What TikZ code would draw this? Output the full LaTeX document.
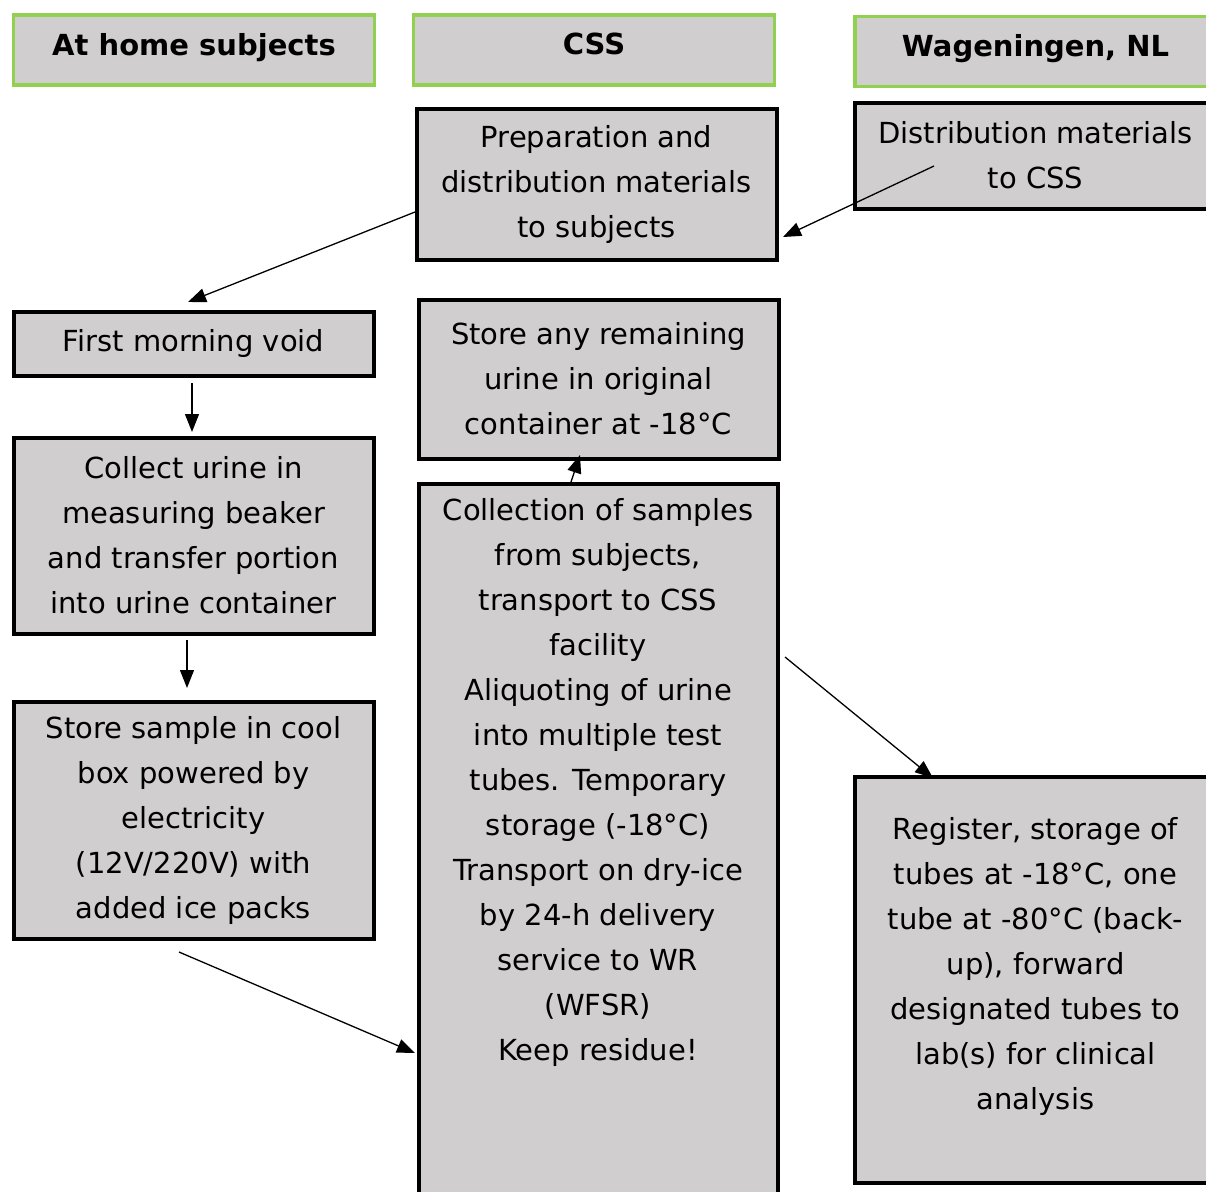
\documentclass[tikz,border=0pt]{standalone}
\usepackage{fontspec}
\setmainfont{DejaVu Sans}
\usetikzlibrary{arrows.meta}
\definecolor{boxgray}{RGB}{208,206,206}
\definecolor{headgreen}{RGB}{146,208,80}
\begin{document}
\begin{tikzpicture}[x=1pt,y=-1pt,
  every node/.style={inner sep=0pt, outer sep=0pt, font=\fontsize{29}{45}\selectfont},
  header/.style={draw=headgreen, line width=3.5pt, fill=boxgray, minimum width=361pt,
    minimum height=70pt, text depth=12pt, font=\bfseries\fontsize{29}{45}\selectfont},
  stepbox/.style={draw=black, line width=4pt, fill=boxgray, align=center, minimum width=360pt},
  flow/.style={line width=1.3pt, -{Triangle[length=18pt,width=14pt]}},
  txt/.style={align=center}]
\useasboundingbox (0,0) rectangle (1206,1191);
\clip (0,0) rectangle (1206,1191);

% column headers
\node[header] (hhome) at (194,50) {At home subjects};
\node[header] (hcss) at (594,50) {CSS};
\node[header] (hwag) at (1035.5,51.5) {Wageningen, NL};

% CSS column
\node[stepbox, minimum height=151pt] (prep) at (596.5,184)
  {Preparation and\\distribution materials\\to subjects};
\node[stepbox, minimum height=159pt] (remain) at (598.5,379)
  {Store any remaining\\urine in original\\container at -18°C};
\node[stepbox, minimum width=359pt, minimum height=720pt] (coll) at (598,843.5) {};
\node[txt] (colltext) at (598,782.5)
  {Collection of samples\\from subjects,\\transport to CSS\\facility\\Aliquoting of urine\\into multiple test\\tubes. Temporary\\storage (-18°C)\\Transport on dry-ice\\by 24-h delivery\\service to WR\\(WFSR)\\Keep residue!};

% Wageningen column
\node[stepbox, minimum width=361pt, minimum height=106pt] (dist) at (1035.5,155.5)
  {Distribution materials\\to CSS};
\node[stepbox, minimum width=361pt, minimum height=406pt] (reg) at (1035.5,979.5) {};
\node[txt] (regtext) at (1035.5,966)
  {Register, storage of\\tubes at -18°C, one\\tube at -80°C (back-\\up), forward\\designated tubes to\\lab(s) for clinical\\analysis};

% at-home column
\node[stepbox, minimum height=64pt] (fmv) at (193.5,343.5) {First morning void};
\node[stepbox, minimum height=196pt] (collect) at (193.5,535.5)
  {Collect urine in\\measuring beaker\\and transfer portion\\into urine container};
\node[stepbox, minimum height=237pt] (store) at (193.5,820)
  {Store sample in cool\\box powered by\\electricity\\(12V/220V) with\\added ice packs};

% connector ends
\coordinate (prepout) at (415,212);
\coordinate (fmvin) at (188,302);
\coordinate (distout) at (934,166);
\coordinate (prepin) at (783,237);
\coordinate (fmvout) at (192,383);
\coordinate (collectin) at (192,432);
\coordinate (collectout) at (187,640);
\coordinate (storein) at (187,688);
\coordinate (collout) at (570,485);
\coordinate (remainin) at (580,455);
\coordinate (storeout) at (179,952);
\coordinate (collin) at (415,1053);
\coordinate (collright) at (785,657);
\coordinate (regin) at (933,778);

\draw[flow] (prepout) -- (fmvin);
\draw[flow] (distout) -- (prepin);
\draw[flow] (fmvout) -- (collectin);
\draw[flow] (collectout) -- (storein);
\draw[flow] (collout) -- (remainin);
\draw[flow] (storeout) -- (collin);
\draw[flow] (collright) -- (regin);
\end{tikzpicture}
\end{document}
